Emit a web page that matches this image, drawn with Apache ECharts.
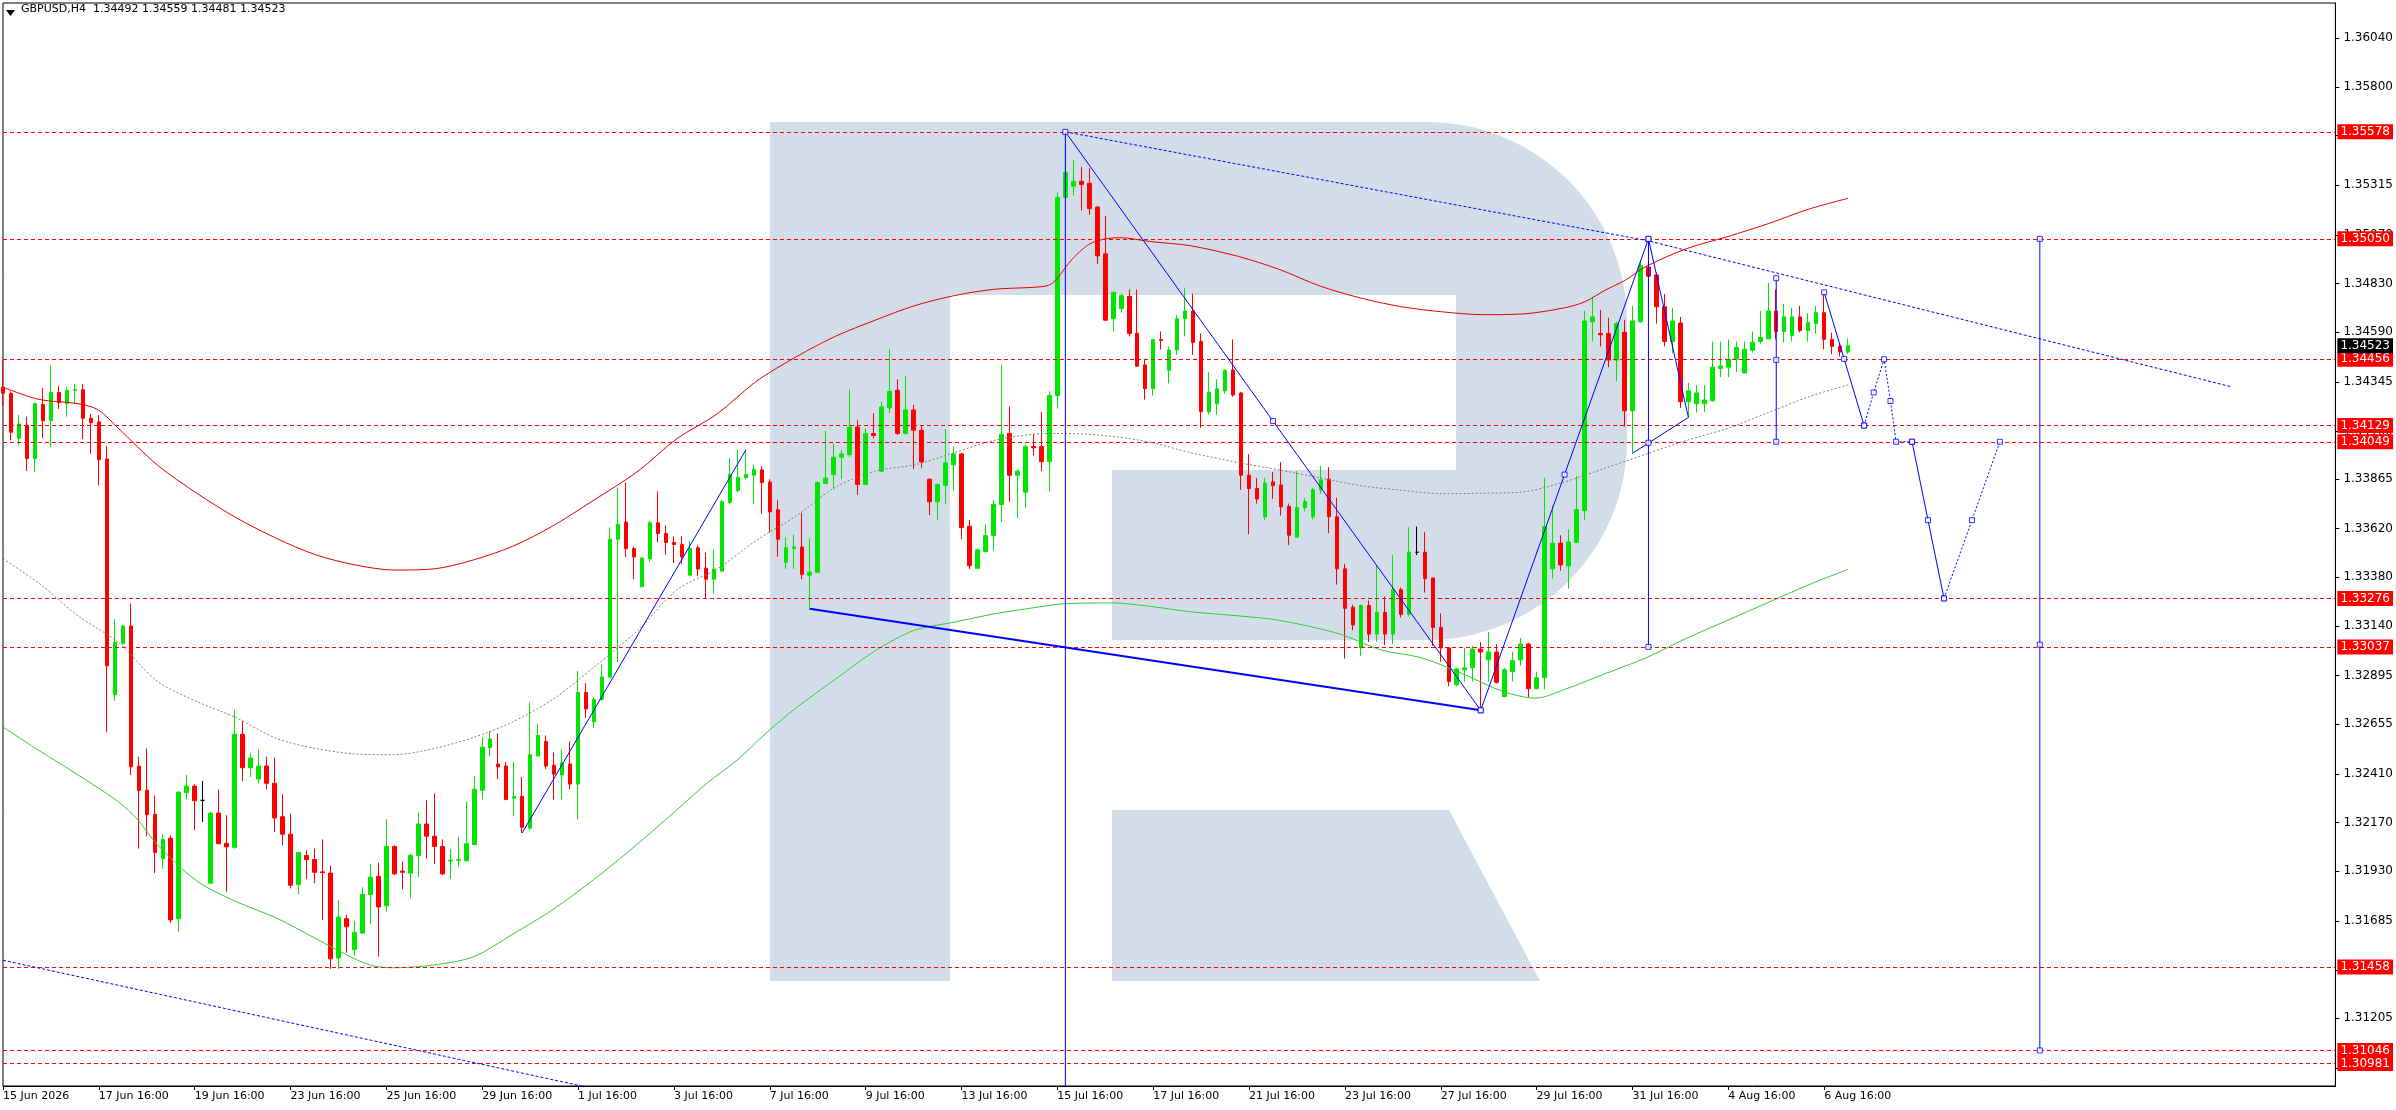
<!DOCTYPE html>
<html>
<head>
<meta charset="utf-8">
<script src="https://cdn.jsdelivr.net/npm/echarts@6.0.0/dist/echarts.min.js"></script>
<style>
  html, body { margin: 0; padding: 0; background: #fff; }
  #main { width: 2396px; height: 1110px; }
</style>
</head>
<body>
<div id="main"></div>
<script>
// GBPUSD H4, first bar 15 Jun 2026 16:00
var opens = [
  1.34318,1.34288,1.34066,1.34131,1.33966,1.34233,1.34153,1.34292,1.34237,1.34302,
  1.34306,1.34165,1.34147,1.33964,1.32801,1.33053,1.33140,1.32449,1.32330,1.32211,
  1.31992,1.32093,1.31696,1.32318,1.32350,1.32280,1.31871,1.32217,1.32068,1.32048,
  1.32606,1.32441,1.32385,1.32449,1.32364,1.32199,1.32113,1.31865,1.32008,1.31988,
  1.31927,1.31921,1.31502,1.31696,1.31543,1.31625,1.31815,1.31905,1.31760,1.32052,
  1.31931,1.31921,1.32008,1.32163,1.32103,1.32052,1.31980,1.31984,1.31982,1.32062,
  1.32330,1.32540,1.32459,1.32449,1.32290,1.32300,1.32143,1.32499,1.32570,1.32453,
  1.32405,1.32459,1.32360,1.32812,1.32667,1.32777,1.32887,1.33568,1.33653,1.33522,
  1.33334,1.33471,1.33649,1.33596,1.33552,1.33542,1.33391,1.33526,1.33425,1.33371,
  1.33411,1.33749,1.33808,1.33872,1.33884,1.33910,1.33850,1.33713,1.33455,1.33522,
  1.33530,1.33391,1.33405,1.33844,1.33888,1.33973,1.33985,1.34122,1.33838,1.34090,
  1.33904,1.34216,1.34303,1.34090,1.34206,1.34106,1.33864,1.33753,1.33834,1.33935,
  1.33989,1.33632,1.33425,1.33508,1.33586,1.33739,1.34090,1.33884,1.33800,1.34025,
  1.34025,1.33951,1.34277,1.35254,1.35310,1.35334,1.35324,1.35207,1.34976,1.34656,
  1.34706,1.34766,1.34585,1.34428,1.34311,1.34553,1.34402,1.34502,1.34656,1.34694,
  1.34544,1.34197,1.34236,1.34300,1.34403,1.34290,1.33884,1.33818,1.33679,1.33851,
  1.33836,1.33730,1.33578,1.33724,1.33679,1.33812,1.33865,1.33679,1.33422,1.33233,
  1.33032,1.33241,1.33100,1.33207,1.33100,1.33319,1.33198,1.33504,1.33504,1.33377,
  1.33133,1.33032,1.32850,1.32924,1.32934,1.33026,1.32973,1.33012,1.32792,1.32915,
  1.32973,1.33051,1.32831,1.32885,1.33422,1.33549,1.33436,1.33553,1.33709,1.34641,
  1.34583,1.34583,1.34452,1.34589,1.34202,1.34641,1.34911,1.34872,1.34715,1.34544,
  1.34635,1.34247,1.34236,1.34236,1.34251,1.34411,1.34417,1.34456,1.34388,1.34501,
  1.34544,1.34557,1.34694,1.34593,1.34573,1.34665,1.34598,1.34632,1.34686,1.34554,
  1.34520,1.34492
];
var highs = [
  1.34449,1.34298,1.34181,1.34173,1.34242,1.34314,1.34427,1.34324,1.34318,1.34334,
  1.34334,1.34187,1.34181,1.34030,1.33174,1.33145,1.33251,1.32495,1.32536,1.32304,
  1.32113,1.32107,1.32324,1.32405,1.32360,1.32375,1.32223,1.32334,1.32207,1.32727,
  1.32673,1.32516,1.32532,1.32495,1.32491,1.32310,1.32215,1.32026,1.32032,1.32042,
  1.32087,1.31958,1.31790,1.31716,1.31684,1.31851,1.31966,1.31972,1.32187,1.32058,
  1.31978,1.32018,1.32219,1.32280,1.32314,1.32087,1.32038,1.32099,1.32274,1.32399,
  1.32590,1.32622,1.32610,1.32469,1.32469,1.32395,1.32763,1.32656,1.32600,1.32516,
  1.32530,1.32570,1.32918,1.32858,1.32787,1.32949,1.33626,1.33824,1.33848,1.33532,
  1.33481,1.33659,1.33804,1.33636,1.33582,1.33582,1.33562,1.33538,1.33502,1.33518,
  1.33763,1.33969,1.34009,1.34009,1.33935,1.33928,1.33864,1.33763,1.33578,1.33592,
  1.33697,1.33572,1.33854,1.34102,1.34039,1.34009,1.34307,1.34156,1.34116,1.34190,
  1.34247,1.34508,1.34357,1.34372,1.34231,1.34130,1.33868,1.33844,1.34112,1.34025,
  1.33995,1.33663,1.33522,1.33642,1.33763,1.34428,1.34223,1.33914,1.34035,1.34086,
  1.34196,1.34297,1.35278,1.35578,1.35439,1.35405,1.35399,1.35210,1.35163,1.34790,
  1.34780,1.34801,1.34801,1.34458,1.34556,1.34593,1.34519,1.34674,1.34807,1.34780,
  1.34583,1.34392,1.34358,1.34407,1.34554,1.34295,1.33988,1.33871,1.33871,1.33900,
  1.33949,1.33744,1.33904,1.33773,1.33822,1.33929,1.33923,1.33773,1.33447,1.33246,
  1.33245,1.33266,1.33441,1.33285,1.33490,1.33330,1.33627,1.33631,1.33603,1.33380,
  1.33202,1.33035,1.32934,1.33032,1.33042,1.33061,1.33110,1.33051,1.32934,1.33012,
  1.33081,1.33057,1.32915,1.33871,1.33734,1.33588,1.33617,1.33880,1.34696,1.34764,
  1.34700,1.34661,1.34641,1.34651,1.34719,1.34944,1.35050,1.34885,1.34778,1.34710,
  1.34665,1.34339,1.34329,1.34329,1.34544,1.34544,1.34554,1.34544,1.34544,1.34593,
  1.34696,1.34833,1.34800,1.34729,1.34710,1.34719,1.34684,1.34719,1.34786,1.34587,
  1.34535,1.34559
];
var lows = [
  1.34227,1.34056,1.34032,1.33905,1.33899,1.34066,1.34022,1.34211,1.34173,1.34237,
  1.34062,1.33990,1.33835,1.32616,1.32771,1.33049,1.32405,1.32042,1.32103,1.31921,
  1.31942,1.31676,1.31629,1.32284,1.32133,1.32173,1.31871,1.32062,1.31829,1.32042,
  1.32375,1.32395,1.32364,1.32334,1.32123,1.32058,1.31845,1.31817,1.31891,1.31871,
  1.31690,1.31448,1.31448,1.31529,1.31513,1.31623,1.31670,1.31509,1.31730,1.31911,
  1.31841,1.31797,1.31901,1.31992,1.31966,1.31911,1.31891,1.31952,1.31978,1.32058,
  1.32284,1.32499,1.32385,1.32280,1.32203,1.32119,1.32133,1.32495,1.32435,1.32284,
  1.32284,1.32334,1.32187,1.32687,1.32636,1.32771,1.32887,1.32962,1.33481,1.33371,
  1.33330,1.33457,1.33552,1.33491,1.33451,1.33445,1.33385,1.33385,1.33276,1.33300,
  1.33407,1.33743,1.33800,1.33864,1.33743,1.33693,1.33602,1.33481,1.33421,1.33421,
  1.33371,1.33220,1.33401,1.33840,1.33814,1.33864,1.33975,1.33787,1.33838,1.34065,
  1.33900,1.34190,1.34082,1.34086,1.33914,1.33920,1.33687,1.33663,1.33743,1.33808,
  1.33568,1.33421,1.33421,1.33502,1.33512,1.33653,1.33753,1.33673,1.33723,1.33981,
  1.33904,1.33804,1.34212,1.35254,1.35264,1.35189,1.35169,1.34927,1.34645,1.34593,
  1.34686,1.34569,1.34418,1.34257,1.34277,1.34504,1.34337,1.34478,1.34569,1.34478,
  1.34118,1.34183,1.34183,1.34286,1.34271,1.33812,1.33592,1.33744,1.33662,1.33767,
  1.33685,1.33539,1.33578,1.33705,1.33666,1.33793,1.33598,1.33344,1.32979,1.33120,
  1.32993,1.33061,1.33061,1.33045,1.33051,1.33182,1.33188,1.33490,1.33305,1.33042,
  1.32963,1.32843,1.32843,1.32866,1.32866,1.32724,1.32866,1.32856,1.32788,1.32866,
  1.32944,1.32788,1.32827,1.32827,1.33373,1.33412,1.33324,1.33549,1.33662,1.34544,
  1.34520,1.34417,1.34349,1.34124,1.33992,1.34637,1.34856,1.34632,1.34520,1.34485,
  1.34216,1.34169,1.34193,1.34197,1.34247,1.34368,1.34368,1.34392,1.34388,1.34489,
  1.34534,1.34554,1.34554,1.34540,1.34544,1.34589,1.34544,1.34583,1.34505,1.34481,
  1.34470,1.34481
];
var closes = [
  1.34288,1.34096,1.34137,1.33966,1.34237,1.34153,1.34292,1.34242,1.34302,1.34306,
  1.34165,1.34143,1.33960,1.32944,1.33059,1.33140,1.32445,1.32328,1.32209,1.32022,
  1.32087,1.31690,1.32320,1.32350,1.32278,1.32280,1.32217,1.32066,1.32050,1.32606,
  1.32441,1.32489,1.32449,1.32364,1.32193,1.32113,1.31861,1.32022,1.31988,1.31925,
  1.31923,1.31498,1.31704,1.31656,1.31629,1.31815,1.31901,1.31754,1.32052,1.31917,
  1.31925,1.32008,1.32163,1.32103,1.32052,1.31917,1.31984,1.31988,1.32066,1.32334,
  1.32542,1.32582,1.32445,1.32284,1.32298,1.32147,1.32505,1.32600,1.32449,1.32409,
  1.32465,1.32360,1.32812,1.32731,1.32777,1.32888,1.33568,1.33642,1.33522,1.33481,
  1.33475,1.33649,1.33596,1.33552,1.33542,1.33481,1.33522,1.33421,1.33371,1.33421,
  1.33753,1.33888,1.33874,1.33888,1.33912,1.33848,1.33703,1.33568,1.33526,1.33530,
  1.33395,1.33405,1.33848,1.33870,1.33973,1.33989,1.34122,1.33838,1.34090,1.34080,
  1.34221,1.34297,1.34090,1.34206,1.34106,1.33949,1.33753,1.33838,1.33945,1.33989,
  1.33626,1.33437,1.33516,1.33586,1.33739,1.34086,1.33884,1.33904,1.34025,1.34019,
  1.33951,1.34277,1.35254,1.35379,1.35334,1.35318,1.35199,1.34966,1.34649,1.34786,
  1.34770,1.34583,1.34422,1.34311,1.34553,1.34549,1.34502,1.34656,1.34694,1.34539,
  1.34197,1.34294,1.34310,1.34401,1.34280,1.33884,1.33818,1.33767,1.33845,1.33832,
  1.33728,1.33588,1.33724,1.33754,1.33812,1.33861,1.33679,1.33422,1.33227,1.33145,
  1.33241,1.33100,1.33207,1.33100,1.33319,1.33198,1.33504,1.33504,1.33373,1.33133,
  1.33032,1.32866,1.32928,1.32934,1.33026,1.33012,1.33012,1.32862,1.32924,1.32969,
  1.33051,1.32831,1.32885,1.33631,1.33549,1.33441,1.33555,1.33715,1.34645,1.34665,
  1.34577,1.34452,1.34632,1.34202,1.34645,1.34918,1.34866,1.34715,1.34544,1.34645,
  1.34247,1.34300,1.34290,1.34255,1.34417,1.34423,1.34456,1.34514,1.34505,1.34540,
  1.34563,1.34694,1.34593,1.34665,1.34665,1.34598,1.34637,1.34686,1.34554,1.34520,
  1.34492,1.34523
];

// price scale ticks as the terminal prints them
var yTicks = [1.36040,1.35800,1.35560,1.35315,1.35070,1.34830,1.34590,1.34345,1.34100,1.33865,
  1.33620,1.33380,1.33140,1.32895,1.32655,1.32410,1.32170,1.31930,1.31685,1.31440,1.31205,1.30960];

// horizontal levels (red dashed) and last price
var levels = [1.35578,1.35050,1.34456,1.34129,1.34049,1.33276,1.33037,1.31458,1.31046,1.30981];
var lastPrice = 1.34523;

// envelope lines, [bar, price]
var maUpper = [[0,1.34318],[4.5,1.34258],[9.4,1.34237],[11.9,1.34207],[14.4,1.34117],[19.3,1.33935],
  [24.3,1.33794],[29.2,1.33674],[34.2,1.33573],[39.1,1.33492],[44,1.33442],[49,1.33416],[54,1.33422],
  [58.9,1.33466],[63.8,1.33533],[68.8,1.33633],[73.7,1.33754],[79.5,1.33904],[84.4,1.34065],
  [89.4,1.34186],[94.3,1.34347],[99.3,1.34468],[104.2,1.34569],[109.2,1.34649],[114.1,1.34720],
  [119.1,1.34770],[124,1.34801],[129,1.34811],[130.9,1.34821],[131.9,1.34851],[133.9,1.34952],
  [136.4,1.35032],[139.8,1.35056],[143.8,1.35036],[148.7,1.35016],[154.7,1.34963],[159.8,1.34899],
  [164.9,1.34817],[170,1.34758],[175.1,1.34715],[180.2,1.34690],[185.3,1.34676],[190.4,1.34680],
  [195.5,1.34710],[198,1.34739],[200.6,1.34797],[203.1,1.34846],[205.7,1.34914],[210.8,1.35002],
  [215.9,1.35061],[221,1.35125],[226.1,1.35197],[231,1.35250]];
var maMiddle = [[0,1.33472],[4.5,1.33351],[9.4,1.33190],[14.4,1.33060],[19.3,1.32868],[24.3,1.32767],
  [29.2,1.32687],[34.2,1.32586],[39.1,1.32536],[44,1.32509],[49,1.32505],[54,1.32536],[58.9,1.32590],
  [63.8,1.32667],[68.8,1.32777],[73.7,1.32928],[79.5,1.33119],[84.4,1.33320],[89.4,1.33421],
  [94.3,1.33562],[99.3,1.33683],[104.2,1.33824],[109.2,1.33904],[114.1,1.33935],[119.1,1.33995],
  [124,1.34055],[129,1.34086],[132.9,1.34090],[138.8,1.34076],[143.8,1.34045],[148.7,1.33995],
  [154.7,1.33946],[159.8,1.33910],[165,1.33870],[170,1.33832],[175,1.33810],[180.2,1.33793],
  [185.3,1.33795],[190.4,1.33802],[195.5,1.33851],[200.6,1.33919],[205.7,1.33988],[210.8,1.34056],
  [215.9,1.34115],[221,1.34193],[226.1,1.34271],[231,1.34330]];
var maLower = [[0,1.32642],[4.5,1.32526],[9.4,1.32405],[14.4,1.32274],[16.9,1.32183],[19.3,1.32062],
  [24.3,1.31881],[29.2,1.31780],[34.2,1.31700],[39.1,1.31599],[44,1.31498],[46.5,1.31462],[49,1.31454],
  [54,1.31468],[58.9,1.31508],[63.8,1.31619],[68.8,1.31740],[73.7,1.31881],[79,1.32050],[84,1.32220],
  [88,1.32360],[91.9,1.32478],[95.5,1.32610],[99.3,1.32736],[104.2,1.32877],[109.2,1.33018],
  [114.1,1.33119],[119.1,1.33159],[124,1.33199],[129,1.33230],[132.9,1.33250],[138.8,1.33254],
  [143.8,1.33236],[148.7,1.33210],[154.7,1.33190],[159.8,1.33168],[167.4,1.33100],[172.5,1.33022],
  [177.6,1.32983],[182.7,1.32905],[187.8,1.32817],[191.9,1.32784],[195.5,1.32827],[200.6,1.32905],
  [205.7,1.32983],[210.8,1.33080],[215.9,1.33168],[221,1.33256],[226.1,1.33344],[231,1.33420]];

// drawn analysis objects, [bar, price]
var legUp = [[65,1.32119],[93,1.34009]];
var baseLine = [[101,1.33225],[185,1.32724]];
var waveDown = [[133,1.35578],[159,1.34151],[185,1.32724]];
var waveUp = [[185,1.32724],[195.5,1.33887],[206,1.35050]];
var peakDrop = [[133,1.35578],[133,1.300]];
var range1 = [[206,1.35050],[206,1.34044],[206,1.33037]];
var range2 = [[222,1.34856],[222,1.34453],[222,1.34049]];
var range3 = [[255,1.35050],[255,1.33048],[255,1.31046]];
var pullA = [[206,1.35050],[211,1.34169]];
var pullB = [[204,1.33992],[211,1.34169]];
var fcA = [[228,1.34786],[230.5,1.34458],[233,1.34129]];
var fcB = [[233,1.34129],[234.2,1.34292],[235.5,1.34456],[236.3,1.34250],[237,1.34049],[239,1.34049]];
var fcC = [[239,1.34049],[241,1.33662],[243,1.33276]];
var fcD = [[243,1.33276],[246.5,1.33662],[250,1.34049]];
var trendTop = [[133,1.35578],[206,1.35040],[279,1.34320]];
var trendBottom = [[0,1.31491],[90,1.30720]];

var months = ['Jan','Feb','Mar','Apr','May','Jun','Jul','Aug','Sep','Oct','Nov','Dec'];
var nSlots = 293;
var categories = [];
var t = Date.UTC(2026, 5, 15, 16);
while (categories.length < nSlots) {
  var d = new Date(t);
  var wd = d.getUTCDay();
  if (wd !== 0 && wd !== 6) {
    var h = d.getUTCHours();
    categories.push(d.getUTCDate() + ' ' + months[d.getUTCMonth()] + ' ' + (h < 10 ? '0' + h : h) + ':00');
  }
  t += 4 * 3600 * 1000;
}
var lastIdx = opens.length - 1;
function showLabel(i) { return i % 12 === 0 && i <= lastIdx - 3; }

var candleData = opens.map(function (o, i) { return [o, closes[i], lows[i], highs[i]]; });

var FONT = 'DejaVu Sans';
var BLUE = '#0000ff';
var logo = '#d3dde9';

function objLine(pts, width, type) {
  return {
    type: 'line', xAxisIndex: 1, yAxisIndex: 0, data: pts, showSymbol: false,
    lineStyle: { color: BLUE, width: width, type: type }, silent: true, z: 5, animation: false
  };
}

var squares = [].concat(waveDown, waveUp, range1, range2, range3, fcA, fcB, fcC, fcD);

var chart = echarts.init(document.getElementById('main'));
var option = {
  animation: false,
  backgroundColor: '#fff',
  textStyle: { fontFamily: FONT },
  title: {
    text: 'GBPUSD,H4  ' + [opens[lastIdx], highs[lastIdx], lows[lastIdx], closes[lastIdx]].map(function (v) { return v.toFixed(5); }).join(' '),
    left: 21, top: 4, padding: 0,
    textStyle: { fontSize: 11, fontWeight: 'normal', color: '#000', fontFamily: FONT }
  },
  graphic: [
    { type: 'rect', z: -1, shape: { x: 770, y: 122, width: 180, height: 859 }, style: { fill: logo } },
    { type: 'rect', z: -1, shape: { x: 945, y: 122, width: 682, height: 518, r: [0, 200, 200, 0] }, style: { fill: logo } },
    { type: 'rect', z: -1, shape: { x: 950, y: 295, width: 506, height: 175 }, style: { fill: '#fff' } },
    { type: 'rect', z: -1, shape: { x: 950, y: 470, width: 162, height: 171 }, style: { fill: '#fff' } },
    { type: 'polygon', z: -1, shape: { points: [[1112, 810], [1449, 810], [1540, 981], [1112, 981]] }, style: { fill: logo } },
    { type: 'polygon', shape: { points: [[6, 10], [15, 10], [10.5, 16]] }, style: { fill: '#000' } }
  ],
  grid: { left: 3, right: 58, top: 3, bottom: 24, show: true, borderColor: '#000', borderWidth: 1, backgroundColor: 'transparent' },
  xAxis: [
    {
      type: 'category', data: categories, boundaryGap: false,
      axisLine: { lineStyle: { color: '#000' } },
      axisTick: { show: true, interval: showLabel, length: 4, lineStyle: { color: '#000' } },
      axisLabel: {
        interval: showLabel, align: 'left', margin: 5, fontSize: 11, color: '#000', fontFamily: FONT,
        formatter: function (v, i) { return i === 0 ? v.split(' ').slice(0, 2).join(' ') + ' 2026' : v; }
      },
      splitLine: { show: false }
    },
    { type: 'value', min: 0, max: nSlots - 1, show: false }
  ],
  yAxis: {
    type: 'value', position: 'right', min: 1.308705, max: 1.362137, scale: true,
    axisLine: { show: true, onZero: false, lineStyle: { color: '#000' } },
    axisTick: { show: true, length: 4, customValues: yTicks, lineStyle: { color: '#000' } },
    axisLabel: {
      customValues: yTicks, margin: 8, fontSize: 12, color: '#000', fontFamily: FONT,
      formatter: function (v) { return v.toFixed(5); }
    },
    splitLine: { show: false }
  },
  series: [
    {
      type: 'candlestick', xAxisIndex: 0, yAxisIndex: 0, data: candleData, barWidth: 4, z: 2,
      itemStyle: {
        color: '#00e600', color0: '#ff0000', borderColor: '#00e600', borderColor0: '#ff0000',
        borderColorDoji: '#000', borderWidth: 1
      },
      silent: true
    },
    { type: 'line', xAxisIndex: 1, data: maUpper, showSymbol: false, smooth: 0.3, z: 3, silent: true,
      lineStyle: { color: '#e60000', width: 1 } },
    { type: 'line', xAxisIndex: 1, data: maMiddle, showSymbol: false, smooth: 0.3, z: 3, silent: true,
      lineStyle: { color: '#808080', width: 1, type: [2, 2] } },
    { type: 'line', xAxisIndex: 1, data: maLower, showSymbol: false, smooth: 0.3, z: 3, silent: true,
      lineStyle: { color: '#32cd32', width: 1 } },
    {
      type: 'line', xAxisIndex: 1, data: [], z: 4, silent: true,
      markLine: {
        silent: true, symbol: ['none', 'none'], animation: false, precision: 5,
        lineStyle: { color: '#ff0000', width: 1, type: [4, 3] },
        label: {
          show: true, position: 'end', distance: 2, color: '#fff', backgroundColor: '#ff0000',
          fontSize: 12, fontFamily: FONT, padding: [2, 3, 1, 3],
          formatter: function (p) { return Number(p.value).toFixed(5); }
        },
        data: levels.map(function (v) { return { yAxis: v }; }).concat([{
          yAxis: lastPrice, lineStyle: { color: 'rgba(0,0,0,0)' },
          label: { backgroundColor: '#000', color: '#fff' }
        }])
      }
    },
    objLine(legUp, 1, 'solid'),
    objLine(baseLine, 2, 'solid'),
    objLine(waveDown, 1, 'solid'),
    objLine(waveUp, 1, 'solid'),
    objLine(peakDrop, 1, 'solid'),
    objLine(range1, 1, 'solid'),
    objLine(range2, 1, 'solid'),
    objLine(range3, 1, 'solid'),
    objLine(pullA, 1, 'solid'),
    objLine(pullB, 1, 'solid'),
    objLine(fcA, 1, 'solid'),
    objLine(fcB, 1, [2, 2]),
    objLine(fcC, 1, 'solid'),
    objLine(fcD, 1, [2, 2]),
    objLine(trendTop, 1, [3, 2]),
    objLine(trendBottom, 1, [3, 2]),
    {
      type: 'scatter', xAxisIndex: 1, data: squares, symbol: 'rect', symbolSize: 5, z: 6, silent: true,
      itemStyle: { color: '#fff', borderColor: BLUE, borderWidth: 1 }
    }
  ]
};
chart.setOption(option);
</script>
</body>
</html>
